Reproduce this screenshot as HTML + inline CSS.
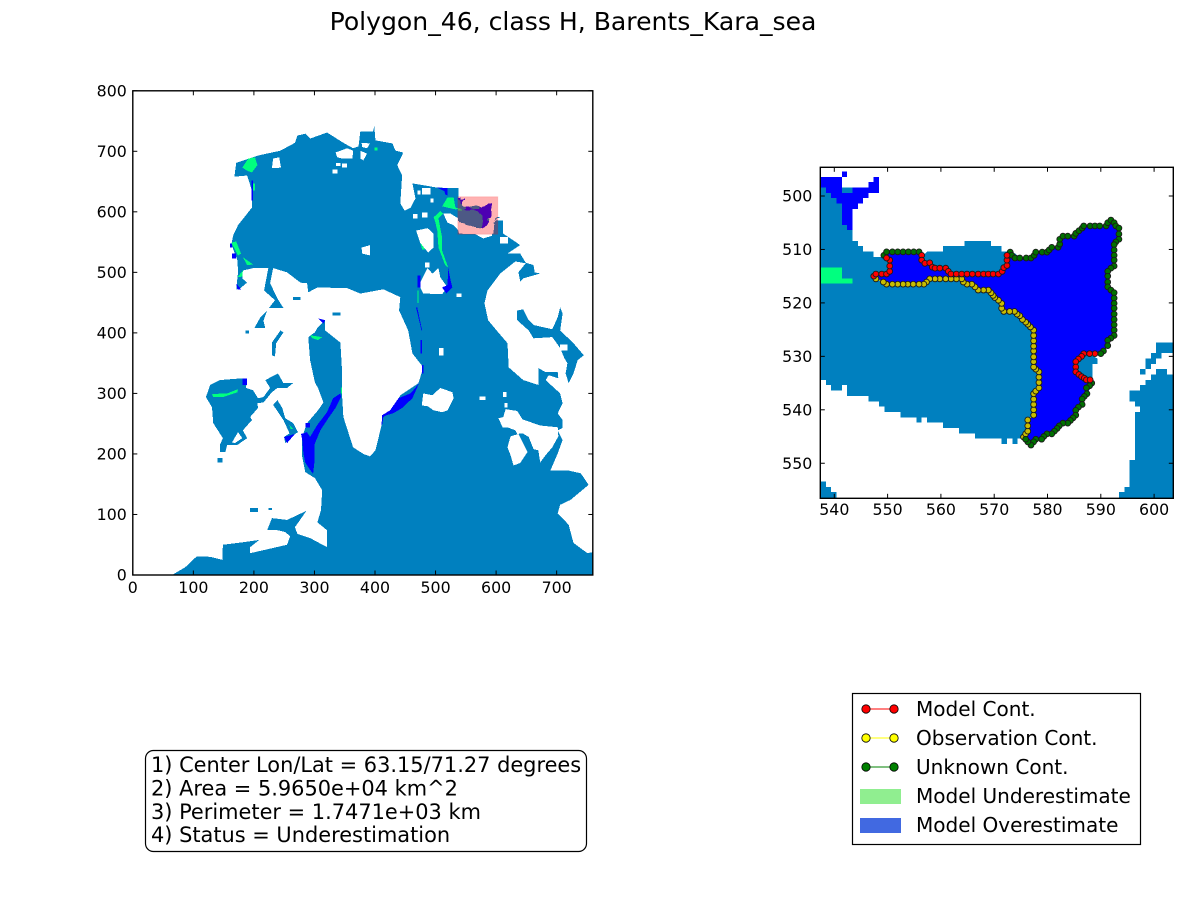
<!DOCTYPE html>
<html><head><meta charset="utf-8"><title>Polygon_46</title>
<style>
html,body{margin:0;padding:0;background:#fff;width:1182px;height:900px;overflow:hidden}
svg{display:block;font-family:"DejaVu Sans","Liberation Sans",sans-serif}
</style></head><body>
<svg id="fig" xmlns="http://www.w3.org/2000/svg" width="1182" height="900" viewBox="0 0 1182 900">
<defs>
<clipPath id="clipL"><rect x="132.8" y="90.8" width="460" height="484.2"/></clipPath>
<clipPath id="clipR"><rect x="820.3" y="167.3" width="353" height="331"/></clipPath>
</defs>
<rect width="1182" height="900" fill="#fff"/>
<text x="573" y="30" text-anchor="middle" font-size="25.1" fill="#000">Polygon_46, class H, Barents_Kara_sea</text>
<g id="axL"></g>
<g id="axR"></g>
<g>
<rect x="145.5" y="750.5" width="441" height="101" rx="8" ry="8" fill="#fff" stroke="#000" stroke-width="1.2"/>
<text x="151" y="772" font-size="20.9">1) Center Lon/Lat = 63.15/71.27 degrees</text>
<text x="151" y="795.5" font-size="20.9">2) Area = 5.9650e+04 km^2</text>
<text x="151" y="819" font-size="20.9">3) Perimeter = 1.7471e+03 km</text>
<text x="151" y="842" font-size="20.9">4) Status = Underestimation</text>
</g>
<g>
<rect x="852.5" y="693.5" width="288" height="151" fill="#fff" stroke="#000" stroke-width="1.2"/>
<g>
<line x1="866" y1="709" x2="894" y2="709" stroke="#f00" stroke-width="1"/>
<circle cx="866" cy="709" r="4.2" fill="#f00" stroke="#000" stroke-width=".8"/><circle cx="894" cy="709" r="4.2" fill="#f00" stroke="#000" stroke-width=".8"/>
<text x="916" y="716" font-size="20.05">Model Cont.</text></g>
<g>
<line x1="866" y1="738" x2="894" y2="738" stroke="#ff0" stroke-width="1"/>
<circle cx="866" cy="738" r="4.2" fill="#ff0" stroke="#000" stroke-width=".8"/><circle cx="894" cy="738" r="4.2" fill="#ff0" stroke="#000" stroke-width=".8"/>
<text x="916" y="745" font-size="20.05">Observation Cont.</text></g>
<g>
<line x1="866" y1="767" x2="894" y2="767" stroke="#008000" stroke-width="1"/>
<circle cx="866" cy="767" r="4.2" fill="#008000" stroke="#000" stroke-width=".8"/><circle cx="894" cy="767" r="4.2" fill="#008000" stroke="#000" stroke-width=".8"/>
<text x="916" y="774" font-size="20.05">Unknown Cont.</text></g>
<g>
<rect x="860" y="789" width="41" height="15" fill="#90ee90"/>
<text x="916" y="803" font-size="20.05">Model Underestimate</text></g>
<g>
<rect x="860" y="818" width="41" height="15" fill="#4169e1"/>
<text x="916" y="832" font-size="20.05">Model Overestimate</text></g>
</g>
</svg>
<script>
// ---- tick labels ----
const overviewXTicks = [0,100,200,300,400,500,600,700];
const overviewYTicks = [0,100,200,300,400,500,600,700,800];
const zoomXTicks = [540,550,560,570,580,590,600];
const zoomYTicks = [500,510,520,530,540,550];
// ---- overview map: grid-cell coordinates ----
const oceanMain = [[66,0],[88,13],[107,31],[129,30],[149,25],[150,50],[183,54],[210,58],[195,46],[195,36],[217,41],[256,50],[261,64],[253,71],[240,74],[223,74],[231,94],[256,91],[288,106],[269,79],[273,68],[294,61],[322,46],[322,74],[306,87],[312,107],[314,140],[302,160],[286,170],[281,195],[281,228],[289,251],[307,272],[316,285],[307,309],[302,318],[294,355],[291,393],[302,401],[306,408],[319,421],[319,404],[344,384],[347,333],[347,294],[349,261],[365,211],[382,200],[393,196],[402,206],[410,239],[415,261],[430,272],[443,297],[473,317],[481,343],[463,366],[456,404],[441,437],[443,459],[415,472],[377,465],[355,474],[306,475],[291,467],[289,482],[278,483],[256,500],[233,507],[228,482],[240,457],[250,441],[226,441],[236,454],[218,470],[225,507],[200,507],[183,503],[182,490],[190,483],[179,474],[172,472],[175,500],[174,520],[164,546],[167,561],[175,578],[198,607],[198,635],[190,660],[169,658],[172,681],[208,693],[245,701],[269,714],[273,726],[286,729],[294,721],[322,731],[349,714],[365,705],[374,708],[377,733],[398,733],[400,741],[402,718],[430,713],[435,701],[448,698],[438,677],[446,660],[443,614],[450,602],[460,607],[468,622],[463,647],[504,640],[539,639],[539,589],[526,597],[514,597],[521,582],[531,578],[539,569],[539,564],[567,563],[580,556],[603,563],[605,586],[613,586],[613,564],[625,556],[641,545],[620,531],[641,531],[650,516],[663,512],[665,500],[674,498],[646,490],[641,485],[638,500],[650,515],[633,518],[608,498],[587,470],[582,449],[588,421],[602,404],[620,383],[622,343],[646,322],[671,314],[671,342],[683,335],[703,335],[704,325],[688,330],[683,322],[707,300],[711,284],[703,267],[711,256],[711,243],[703,239],[711,223],[703,201],[691,173],[719,173],[741,168],[754,149],[724,124],[707,116],[703,102],[721,83],[729,53],[752,36],[762,38],[762,0]];
const oceanHudson = [[122,294],[129,314],[145,322],[182,325],[190,322],[188,309],[200,305],[208,292],[217,294],[228,309],[220,322],[241,333],[250,317],[266,317],[256,309],[240,309],[231,302],[217,285],[207,284],[208,276],[195,261],[198,256],[183,239],[190,226],[174,215],[157,215],[154,203],[145,203],[145,215],[150,226],[134,251],[132,277]];
const oceanStripA = [[202,408],[212,426],[223,437],[217,420],[220,408]];
const oceanStripB = [[231,363],[236,361],[238,383],[250,401],[245,404],[231,384]];
const oceanStripC = [[233,281],[240,289],[248,276],[253,259],[266,251],[274,236],[266,231],[253,218],[251,228],[260,234],[250,256]];
const oceanBaffin = [[636,437],[646,439],[655,421],[663,413],[694,406],[703,426],[707,442],[711,432],[707,404],[729,383],[746,363],[736,355],[729,333],[721,317],[716,333],[719,350],[714,358],[707,375],[694,393],[663,391],[655,404],[636,421]];
const oceanSmallRects = [[141,186,149,193],[187,399,193,404],[331,429,344,434],[266,454,278,459],[195,104,208,111],[225,107,231,111]];
const landHoles = [
 [[231,672],[233,688],[243,690],[246,673]],
 [[336,698],[355,705],[365,701],[364,688],[347,688],[339,690]],
 [[379,714],[393,713],[388,705],[380,707]],
 [[377,701],[388,696],[382,685],[377,688]],
 [[379,541],[393,545],[393,528],[380,531]],
 [[469,569],[488,573],[498,564],[498,541],[489,533],[476,548]],
 [[476,483],[488,507],[496,498],[506,507],[509,492],[521,475],[512,464],[481,465],[476,475]],
 [[479,285],[481,300],[496,297],[509,309],[529,302],[531,292],[521,272],[512,269],[498,272],[488,279],[479,280]],
 [[605,259],[613,261],[617,274],[636,271],[645,257],[674,247],[703,244],[704,229],[694,211],[683,198],[674,186],[671,206],[663,208],[655,228],[645,234],[636,233],[633,239],[620,244],[612,244]],
 [[620,211],[625,229],[638,233],[653,203],[641,185],[630,181],[625,198]],
 [[165,219],[175,236],[182,226],[170,218]]
];
const landSmallRects = [[337,676,344,681],[347,673,355,680],[331,663,339,670],[471,629,476,635],[479,629,493,639],[493,615,498,622],[464,589,471,596],[479,591,488,599],[484,508,491,516],[536,459,544,465],[507,363,514,375],[574,289,584,295],[613,294,618,302],[615,277,620,284],[608,548,621,558],[707,371,719,381]];
const overPolys = [
 [[279,233],[289,236],[294,228],[306,248],[322,269],[332,292],[344,300],[345,294],[336,276],[324,259],[311,239],[301,215],[301,185],[299,167],[291,178],[286,186],[283,201],[281,223]],
 [[251,228],[269,233],[256,218]],
 [[172,482],[180,472],[174,472]],
 [[504,640],[521,639],[521,627],[517,629],[516,634]],
 [[522,507],[526,487],[529,475],[519,465],[512,475],[521,479]],
 [[471,442],[479,404],[478,404],[469,442]],
 [[474,317],[463,292],[446,276],[431,267],[420,264],[415,261],[413,248],[412,248],[413,264],[426,272],[440,292],[460,300],[471,313]],
 [[307,424],[319,421],[316,415]]
];
const overRects = [[286,244,294,251],[182,314,190,325],[162,541,165,548],[165,523,172,531],[197,619,200,652],[471,475,476,495],[476,366,479,388],[479,333,481,347]];
const underPolys = [
 [[132,299],[157,300],[175,307],[174,302],[150,294],[134,294]],
 [[294,396],[314,393],[307,388],[298,391]],
 [[260,248],[266,241],[262,241]],
 [[182,673],[192,688],[203,690],[207,677],[198,665],[190,668]],
 [[164,549],[172,551],[180,531],[175,528]],
 [[183,525],[200,513],[190,512]],
 [[174,492],[183,503],[182,493]],
 [[512,609],[521,624],[531,624],[534,607],[542,605],[534,604]],
 [[498,591],[509,601],[514,597],[506,589],[512,558],[512,536],[522,508],[517,512],[506,541],[504,569],[501,582]],
 [[476,549],[484,538],[479,538]]
];
const underRects = [[345,300,347,310],[200,635,203,647],[471,449,473,470],[400,701,405,706]];
const zoomWindow = [538,563,604,625];
const zoomRowFlip = 1119;
// ---- zoom map: cell edges ----
const zoomOcean = [[537,498],[543,498],[543,508],[544,508],[544,509],[545,509],[545,510],[547,510],[547,511],[551,511],[556,511],[557,510],[560,510],[560,509],[564,509],[564,508],[569,508],[569,509],[571,509],[571,510],[573,510],[580,515],[585,528],[589,530],[589,531],[588,531],[588,535],[585,540],[577,545],[575,545],[574,545],[574,546],[573,546],[573,545],[572,545],[572,546],[571,546],[571,545],[566,545],[566,544],[563,544],[563,543],[560,543],[560,542],[557,542],[557,541],[556,541],[556,542],[555,542],[555,541],[552,541],[552,540],[549,540],[549,539],[548,539],[548,538],[546,538],[546,537],[542,537],[542,535],[541,535],[541,536],[539,536],[539,535],[538,535],[538,534],[537,534]];
const zoomOceanCorner = [[537,553],[538,553],[538,554],[539,554],[539,555],[540,555],[540,558],[537,558]];
const zoomOceanEastA = [[605,527],[600,527],[600,529],[599,529],[599,530],[598,530],[598,532],[597,532],[597,533],[598,533],[598,532],[599,532],[599,531],[600,531],[600,530],[601,530],[601,529],[605,529]];
const zoomOceanEastB = [[605,533],[602,533],[602,532],[600,532],[600,533],[599,533],[599,534],[598,534],[598,535],[597,535],[597,536],[595,536],[595,538],[596,538],[596,539],[597,539],[597,540],[596,540],[596,549],[595,549],[595,554],[594,554],[594,555],[593,555],[593,558],[605,558]];
const zoomUnder = [[537,513],[541,513],[541,515],[543,515],[543,516],[537,516]];
const zoomOverTop = [[537,496],[541,496],[541,499],[543,499],[543,498],[546,498],[546,497],[547,497],[547,496],[548,496],[548,499],[546,499],[546,500],[545,500],[545,501],[544,501],[544,502],[543,502],[543,506],[542,506],[542,505],[541,505],[541,501],[540,501],[540,500],[539,500],[539,499],[538,499],[538,498],[537,498]];
const zoomOverCell = [[541,495],[542,495],[542,496],[541,496]];
// ---- contours, in order around the polygon ----
const modelContA = [[547.4,515],[547.8,514.6],[548.9,514.6],[549.8,514.6],[550.4,514.1],[550.4,513.1],[550.4,512],[549.8,511.6]];
const unknownContA = [[549.3,511.1],[549.8,510.45],[550.9,510.45],[551.9,510.45],[552.9,510.45],[553.9,510.45],[554.9,510.45],[555.9,510.45]];
const modelContB = [[556.4,511.1],[556.4,512],[557,512.6],[557.9,512.5],[558.4,513.3],[558.9,513.5],[559.8,513.5],[560.9,513.5],[561.4,514.1],[561.9,514.6],[562.9,514.6],[563.9,514.6],[564.9,514.6],[565.9,514.6],[567,514.6],[568,514.6],[568.9,514.6],[569.8,514.6],[570.8,514.6],[571.5,514.1],[571.8,513.4],[572.4,513],[572.4,512],[572.4,511.1]];
const unknownContB = [[573,510.5],[573.3,511.1],[573.9,511.6],[574.8,511.6],[576,511.6],[576.9,511.6],[577.5,511.1],[577.8,510.5],[579,510.5],[579.9,510.5],[580.3,510.1],[580.8,509.6],[582,509.6],[582.3,509],[582.3,508.1],[582.9,507.5],[583.8,507.5],[585,507.5],[585.3,507],[585.9,506.5],[586.5,506],[586.8,505.6],[588,505.6],[588.9,505.6],[589.8,505.6],[591,505.6],[591.3,505],[591.9,504.5],[592.5,505],[592.8,505.6],[593.4,506],[593.4,507.1],[593.4,508.1],[592.8,508.6],[592.5,509.1],[592.5,510.1],[592.5,511.1],[592.5,512],[592.5,513.1],[591.9,513.5],[591.3,514.1],[591.3,515],[591.3,516.1],[591.3,517],[591.9,517.6],[592.5,518.1],[592.5,519.1],[592.5,520.1],[592.5,521],[592.5,522.1],[592.5,523.1],[592.5,524.1],[592.5,525.1],[592.5,526.1],[591.9,526.6],[591.3,527],[591.3,528],[590.5,529],[590,529.5]];
const modelContC = [[588.9,529.5],[587.9,529.5],[586.8,529.5],[586.4,530],[585.8,530.5],[585.3,531],[585.3,532],[585.3,532.9],[585.9,533.4],[586.4,533.8],[586.9,534.1],[587.3,534.4],[588,534.4]];
const unknownContC = [[588.3,535],[587.9,535.5],[587.3,535.9],[587.4,537],[586.9,537.5],[586.5,538],[586.5,539],[585.8,539.5],[585.3,540.1],[585.3,541],[584.8,541.5],[584.3,542],[583.8,542.5],[582.9,542.5],[582.2,543],[581.8,543.5],[581.3,544],[580.8,544.5],[579.9,544.5],[579.3,545],[578.9,545.5],[577.8,545.5],[577.4,546],[576.9,546.6],[576.3,546],[575.9,545.5]];
const observationCont = [[575.5,545.1],[575.9,544.5],[576.3,544],[576.3,543],[576.3,541.9],[577.4,541],[577.4,540],[577.4,539],[577.4,538],[577.4,537],[577.8,536.5],[578.4,535.9],[578.4,534.9],[578.4,533.9],[578.4,532.9],[577.8,532.4],[577.4,532],[577.4,531],[577.4,530.1],[577.4,529],[577.4,528.1],[577.4,527.1],[577.4,526.1],[577.4,525.1],[576.8,524.5],[576.3,524],[575.9,523.6],[575.3,523.1],[574.8,522.4],[574.3,522.1],[573.8,521.6],[572.9,521.6],[571.8,521.6],[571.4,521],[571.4,520.1],[570.8,519.5],[570.1,519],[569.8,518.6],[569.4,518.1],[568.9,517.6],[568,517.6],[567,517.6],[566.4,517],[565.8,516.5],[564.9,516.5],[564.2,516.1],[563.9,515.5],[562.9,515.5],[561.9,515.5],[560.9,515.5],[559.8,515.5],[558.9,515.5],[557.9,515.5],[557.3,516.1],[556.8,516.5],[555.9,516.5],[554.8,516.5],[553.8,516.5],[552.9,516.5],[551.9,516.5],[550.9,516.5],[549.8,516.5],[549.2,516.1],[547.8,515.5]];

// ---- axis functions ----
const NS = 'http://www.w3.org/2000/svg';
const OCEAN = '#0080bf', UNDER = '#00ff7f', OVER = '#0000ff';
function xL(v){ return 132.8 + 0.6055 * v; }
function yL(v){ return 575 - 0.6053 * v; }
function xR(v){ return 834.3 + 5.33 * (v - 540); }
function yR(v){ return 196 + 5.345 * (v - 500); }
const mapShiftX = -1.2;              // grid-cell registration of the overview raster
const cellShift = 0.4;               // grid-cell registration of the zoom raster
const overview = { x: function(v){ return xL(v + mapShiftX); }, y: yL };
const zoomInOverview = { x: function(v){ return xL(v + cellShift); }, y: function(v){ return yL(zoomRowFlip - v - cellShift); } };
const contourInOverview = { x: xL, y: function(v){ return yL(zoomRowFlip - v); } };
const zoomCells = { x: function(v){ return xR(v + cellShift); }, y: function(v){ return yR(v + cellShift); } };
const zoomPts = { x: xR, y: yR };

function rectPts(r){ return [[r[0],r[1]],[r[2],r[1]],[r[2],r[3]],[r[0],r[3]]]; }
function ptsAttr(pts, ax){ return pts.map(function(p){ return ax.x(p[0]).toFixed(2) + ',' + ax.y(p[1]).toFixed(2); }).join(' '); }
function poly(parent, pts, ax, fill, name, crisp){
  const el = document.createElementNS(NS, 'polygon');
  el.setAttribute('points', ptsAttr(pts, ax));
  el.setAttribute('fill', fill);
  if (crisp) el.setAttribute('shape-rendering', 'crispEdges');
  
  
  parent.appendChild(el);
  return el;
}
function group(parent, name, clip){
  const g = document.createElementNS(NS, 'g');
  if (clip) g.setAttribute('clip-path', 'url(#' + clip + ')');
  
  
  parent.appendChild(g);
  return g;
}
function tickLine(parent, x1, y1, x2, y2){
  const el = document.createElementNS(NS, 'line');
  el.setAttribute('x1', x1); el.setAttribute('y1', y1);
  el.setAttribute('x2', x2); el.setAttribute('y2', y2);
  el.setAttribute('stroke', '#000');
  el.setAttribute('stroke-width', '1');
  
  
  parent.appendChild(el);
}
function label(parent, x, y, str, anchor, name){
  const el = document.createElementNS(NS, 'text');
  el.setAttribute('x', x); el.setAttribute('y', y);
  el.setAttribute('text-anchor', anchor);
  el.setAttribute('font-size', '15.8');
  el.textContent = str;
  
  
  parent.appendChild(el);
}
function frame(parent, box, xTicks, yTicks, fx, fy){
  const f = document.createElementNS(NS, 'rect');
  f.setAttribute('x', box.l); f.setAttribute('y', box.t);
  f.setAttribute('width', box.r - box.l); f.setAttribute('height', box.b - box.t);
  f.setAttribute('fill', 'none');
  f.setAttribute('stroke', '#000');
  f.setAttribute('stroke-width', '1.4');
  
  
  parent.appendChild(f);
  xTicks.forEach(function(t){
    const px = fx(t);
    tickLine(parent, px, box.b, px, box.b - 4.5);
    tickLine(parent, px, box.t, px, box.t + 4.5);
    label(parent, px, box.b + box.padX, String(t), 'middle', 'x-tick-label');
  });
  yTicks.forEach(function(t){
    const py = fy(t);
    tickLine(parent, box.l, py, box.l + 4.5, py);
    tickLine(parent, box.r, py, box.r - 4.5, py);
    label(parent, box.l - box.padY, py + 5.7, String(t), 'end', 'y-tick-label');
  });
}
function contour(parent, pts, color, name){
  const g = group(parent, name, null);
  const line = document.createElementNS(NS, 'polyline');
  line.setAttribute('points', ptsAttr(pts, zoomPts));
  line.setAttribute('fill', 'none');
  line.setAttribute('stroke', color);
  line.setAttribute('stroke-width', '1');
  
  
  g.appendChild(line);
  pts.forEach(function(p){
    const c = document.createElementNS(NS, 'circle');
    c.setAttribute('cx', xR(p[0]).toFixed(2));
    c.setAttribute('cy', yR(p[1]).toFixed(2));
    c.setAttribute('r', '2.9');
    c.setAttribute('fill', color);
    c.setAttribute('stroke', '#1a1a1a');
    c.setAttribute('stroke-width', '0.9');
    
    
    g.appendChild(c);
  });
}

const overPolygon = [].concat(modelContA, unknownContA, modelContB, unknownContB, modelContC, unknownContC, observationCont);

// ---- overview map ----
const axL = document.getElementById('axL');
const gL = group(axL, 'overview-map-image', 'clipL');
poly(gL, oceanMain, overview, OCEAN, 'ocean-main', true);
poly(gL, oceanHudson, overview, OCEAN, 'ocean-region', true);
poly(gL, oceanStripA, overview, OCEAN, 'ocean-strait', true);
poly(gL, oceanStripB, overview, OCEAN, 'ocean-strait', true);
poly(gL, oceanStripC, overview, OCEAN, 'ocean-strait', true);
poly(gL, oceanBaffin, overview, OCEAN, 'ocean-region', true);
oceanSmallRects.forEach(function(r){ poly(gL, rectPts(r), overview, OCEAN, 'ocean-patch', true); });
landHoles.forEach(function(h){ poly(gL, h, overview, '#fff', 'land-island', true); });
landSmallRects.forEach(function(r){ poly(gL, rectPts(r), overview, '#fff', 'land-islet', true); });
overPolys.forEach(function(h){ poly(gL, h, overview, OVER, 'overestimate-region', true); });
overRects.forEach(function(r){ poly(gL, rectPts(r), overview, OVER, 'overestimate-patch', true); });
underPolys.forEach(function(h){ poly(gL, h, overview, UNDER, 'underestimate-region', true); });
underRects.forEach(function(r){ poly(gL, rectPts(r), overview, UNDER, 'underestimate-patch', true); });
// polygon window content on the overview
poly(gL, zoomOcean, zoomInOverview, OCEAN, 'window-ocean', true);
poly(gL, zoomOceanCorner, zoomInOverview, OCEAN, 'window-ocean', true);
poly(gL, zoomOceanEastA, zoomInOverview, OCEAN, 'window-ocean', true);
poly(gL, zoomOceanEastB, zoomInOverview, OCEAN, 'window-ocean', true);
poly(gL, zoomOverTop, zoomInOverview, OVER, 'window-overestimate', true);
poly(gL, zoomOverCell, zoomInOverview, OVER, 'window-overestimate', true);
poly(gL, zoomUnder, zoomInOverview, UNDER, 'window-underestimate', true);
poly(gL, overPolygon, contourInOverview, OVER, 'window-polygon', true);
const win = poly(gL, rectPts(zoomWindow), overview, 'rgba(255,0,0,0.3)', 'zoom-window-highlight', false);
win.setAttribute('stroke', 'rgba(255,0,0,0.12)');
win.setAttribute('stroke-width', '1');
frame(axL, {l:132.8, t:90.8, r:592.8, b:575, padX:18, padY:6}, overviewXTicks, overviewYTicks, xL, yL);

// ---- zoom map ----
const axR = document.getElementById('axR');
const gR = group(axR, 'zoom-map-image', 'clipR');
poly(gR, zoomOcean, zoomCells, OCEAN, 'zoom-ocean', true);
poly(gR, zoomOceanCorner, zoomCells, OCEAN, 'zoom-ocean-corner', true);
poly(gR, zoomOceanEastA, zoomCells, OCEAN, 'zoom-ocean-east', true);
poly(gR, zoomOceanEastB, zoomCells, OCEAN, 'zoom-ocean-east', true);
poly(gR, zoomUnder, zoomCells, UNDER, 'zoom-underestimate', true);
poly(gR, zoomOverTop, zoomCells, OVER, 'zoom-overestimate-top', true);
poly(gR, zoomOverCell, zoomCells, OVER, 'zoom-overestimate-cell', true);
poly(gR, overPolygon, zoomPts, OVER, 'polygon-46-fill', true);
contour(gR, observationCont, '#c8bc00', 'observation-contour');
contour(gR, unknownContA, '#007000', 'unknown-contour');
contour(gR, unknownContB, '#007000', 'unknown-contour');
contour(gR, unknownContC, '#007000', 'unknown-contour');
contour(gR, modelContA, '#ff0000', 'model-contour');
contour(gR, modelContB, '#ff0000', 'model-contour');
contour(gR, modelContC, '#ff0000', 'model-contour');
frame(axR, {l:820.3, t:167.3, r:1173.3, b:498.3, padX:16.5, padY:8}, zoomXTicks, zoomYTicks, xR, yR);
</script>
</body></html>
